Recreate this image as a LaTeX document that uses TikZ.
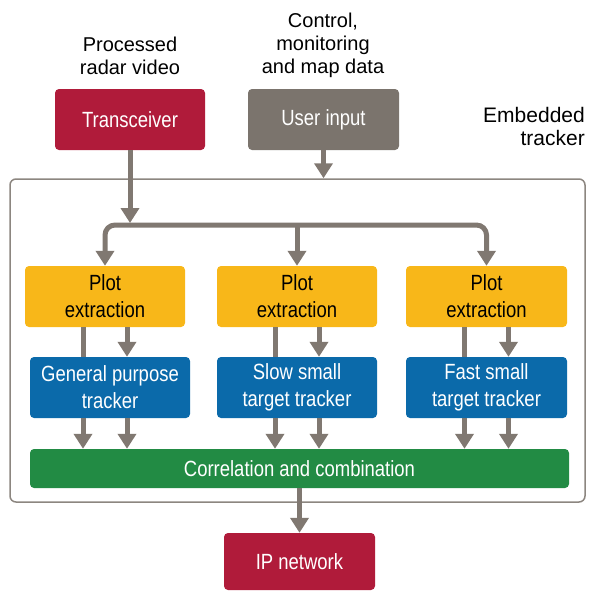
\documentclass[tikz,border=0pt]{standalone}
\usepackage{fontspec}
\setmainfont{Liberation Sans}
\newfontfamily\boxfont[FakeStretch=0.84]{Liberation Sans}
\usetikzlibrary{arrows.meta,positioning,calc}

\definecolor{radarred}{HTML}{B01B3A}
\definecolor{inputgrey}{HTML}{7B746D}
\definecolor{flowgrey}{HTML}{807871}
\definecolor{framegrey}{HTML}{8C8680}
\definecolor{plotyellow}{HTML}{F8B719}
\definecolor{trackblue}{HTML}{0B6AAA}
\definecolor{corrgreen}{HTML}{228B44}

\begin{document}
\begin{tikzpicture}[x=1pt, y=-1pt,
		box/.style={rounded corners=4pt, inner sep=0pt, minimum height=61pt, align=center,
			font=\boxfont\fontsize{22}{27}\selectfont, text=white},
		outtext/.style={inner sep=0pt, align=center, font=\fontsize{20}{23}\selectfont},
		pipe/.style={draw=flowgrey, line width=5pt},
		flow/.style={pipe, -{Triangle[width=18pt,length=15pt]}}]
		\useasboundingbox (0,0) rectangle (591,590);

		% Inputs
		\node[outtext, anchor=north] (radarvid) at (130,37) {Processed\\radar video};
		\node[outtext, anchor=north] (ctrldata) at (323,13) {Control,\\monitoring\\and map data};
		\node[box, fill=radarred, minimum width=150pt] (trx) at (130,119.5) {Transceiver};
		\node[box, fill=inputgrey, minimum width=151pt] (ui) at (323.5,119.5) {User input};

		% Embedded tracker frame
		\node[draw=framegrey, line width=1.5pt, rounded corners=6pt, minimum width=575pt, minimum height=323pt] (emb) at (297.5,340.5) {};
		\node[outtext, anchor=north east, align=right, font=\fontsize{21}{23}\selectfont] (embtxt) at (585,107) {Embedded\\tracker};

		% Plot extraction
		\node[box, fill=plotyellow, text=black, minimum width=160pt] (p1) at (105,296.5) {Plot\\extraction};
		\node[box, fill=plotyellow, text=black, minimum width=160pt] (p2) at (297,296.5) {Plot\\extraction};
		\node[box, fill=plotyellow, text=black, minimum width=161pt] (p3) at (486.5,296.5) {Plot\\extraction};

		% Trackers
		\node[box, fill=trackblue, minimum width=160pt] (t1) at (110,387.5) {General purpose\\tracker};
		\node[box, fill=trackblue, minimum width=160pt] (t2) at (297,387.5) {Slow small\\target tracker};
		\node[box, fill=trackblue, minimum width=161pt] (t3) at (486.5,387.5) {Fast small\\target tracker};

		% Correlation and output
		\node[box, fill=corrgreen, minimum width=539pt, minimum height=39pt] (cc) at (299.5,468.5) {Correlation and combination};
		\node[box, fill=radarred, minimum width=151pt, minimum height=57pt] (ip) at (299.5,561.5) {IP network};

		% Distribution bus
		\coordinate (split) at (130,223);
		\draw[flow] (trx) -- (split);
		\draw[flow] (ui) -- (ui |- emb.north);
		\draw[flow, rounded corners=10pt] (130,225) -| (p1.north);
		\draw[flow, rounded corners=10pt] (130,225) -| (p3.north);
		\draw[flow] (split -| p2.north) -- (p2.north);

		% Plot -> tracker -> correlation
		\foreach \i in {1,2,3} {
			\draw[pipe] ([xshift=-22pt]p\i.south) -- ([xshift=-22pt]p\i.south |- t\i.north);
			\draw[flow] ([xshift=22pt]p\i.south) -- ([xshift=22pt]p\i.south |- t\i.north);
			\draw[flow] ([xshift=-22pt]p\i.south |- t\i.south) -- ([xshift=-22pt]p\i.south |- cc.north);
			\draw[flow] ([xshift=22pt]p\i.south |- t\i.south) -- ([xshift=22pt]p\i.south |- cc.north);
		}
		\draw[flow] (cc) -- (ip);
	\end{tikzpicture}
\end{document}
